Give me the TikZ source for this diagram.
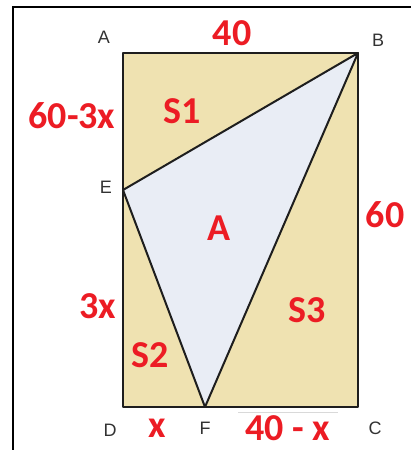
\documentclass[tikz,border=0pt]{standalone}
\usepackage{fontspec}
\setmainfont{Liberation Sans}
\newfontfamily\lblfont{Carlito}
\usepackage{xcolor}
\usetikzlibrary{positioning,calc}
\definecolor{rcTan}   {RGB}{239,226,177}
\definecolor{rcBlueL} {RGB}{233,237,245}
\definecolor{rcRed}   {RGB}{236, 28, 36}
\definecolor{rcGrey}  {RGB}{ 50, 50, 50}
\definecolor{rcLine}  {RGB}{ 30, 30, 30}

\begin{document}
\begin{tikzpicture}[
  x=1pt,y=1pt,
  vtx/.style={text=rcGrey,font=\fontsize{18}{21}\selectfont,inner sep=0pt},
  val/.style={text=rcRed,font=\lblfont\bfseries\fontsize{38}{44}\selectfont,inner sep=0pt},
  edge/.style={draw=rcLine,line width=2pt,line join=round}
]
\useasboundingbox (0,0) rectangle (411,450);
% outer frame
\draw[line width=1.6pt] (13,0) -- (13,443) -- (411,443);
% corner points
\coordinate (A) at (123,397);
\coordinate (B) at (358,397);
\coordinate (C) at (358,43);
\coordinate (D) at (123,43);
\coordinate (E) at (123,260);
\coordinate (F) at (205,43);
% areas
\fill[rcTan] (A) rectangle (C);
\fill[rcBlueL] (E) -- (B) -- (F) -- cycle;
\draw[edge] (A) -- (B) -- (C) -- (D) -- cycle;
\draw[edge] (E) -- (B) -- (F) -- cycle;
\draw[black!15,line width=1pt] (238,37) -- (338,37);
% vertex names
\node[vtx] (nA) at (104,413) {A};
\node[vtx] (nB) at (378,410) {B};
\node[vtx] (nE) at (106,263) {E};
\node[vtx] (nD) at (110,20)  {D};
\node[vtx] (nF) at (205,22)  {F};
\node[vtx] (nC) at (375,22)  {C};
% lengths and areas
\node[val] (top)   at (232,417) {40};
\node[val] (right) at (385,235) {60};
\node[val] (ae)    at (72,334)  {60-3x};
\node[val] (ed)    at (98,144)  {3x};
\node[val] (df)    at (157,22)  {x};
\node[val] (fc)    at (288,22)  {40 - x};
\node[val] (s1)    at (182,339) {S1};
\node[val] (s2)    at (150,95)  {S2};
\node[val] (s3)    at (307,140) {S3};
\node[val] (tri)   at (219,222) {A};
\end{tikzpicture}
\end{document}
